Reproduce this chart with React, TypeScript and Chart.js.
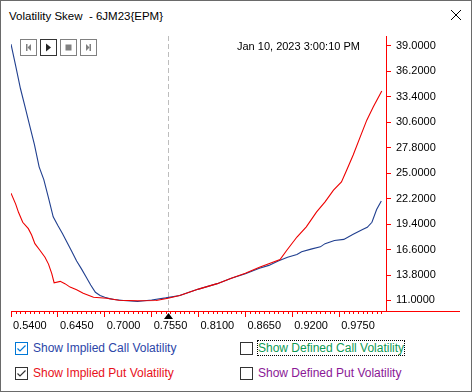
import React, { useEffect, useRef } from 'react';
import { Chart, registerables } from 'chart.js';

Chart.register(...registerables);

// ---- data ----
const strikeLabels = ['0.5400', '0.6450', '0.7000', '0.7550', '0.8100', '0.8650', '0.9200', '0.9750'];
const yTickValues = [11, 13.8, 16.6, 19.4, 22.2, 25, 27.8, 30.6, 33.4, 36.2, 39];

const callStrikeIdx = [0, 1, 2, 3, 4, 5, 6, 7, 8, 9, 10, 11, 12, 13, 14, 15, 16, 17, 18, 19, 20, 21, 22, 24, 27, 30, 33, 36, 38, 40, 42, 44, 47, 50, 53, 55, 57, 59, 61, 62, 64, 66, 67, 69, 71, 73, 75, 76, 77, 78, 79];
const callVol = [39.2, 36.8, 34.35, 32.3, 30.2, 28.15, 25.7, 24.3, 22.3, 20.2, 19.25, 18.35, 17.35, 16.35, 15.35, 14.5, 13.6, 12.7, 11.9, 11.55, 11.35, 11.2, 11.1, 11.0, 10.89, 11.05, 11.28, 11.55, 11.9, 12.25, 12.55, 12.85, 13.45, 13.95, 14.55, 14.86, 15.35, 15.75, 16.05, 16.35, 16.65, 16.9, 17.25, 17.6, 17.72, 18.28, 18.8, 19.05, 19.6, 21.0, 21.95];

const putStrikeIdx = [0, 1, 1.6, 2.5, 3.7, 4.4, 5.1, 6.2, 7.25, 8, 8.7, 9.2, 10.5, 11.5, 12.6, 14, 15.4, 17.6, 20.4, 23, 27, 31, 33.5, 36, 38, 40, 42, 44, 47, 50, 53, 55, 57.4, 58.8, 61, 63, 65.2, 67, 68.8, 70.5, 71.6, 73, 74.5, 75.9, 77.3, 79.1];
const putVol = [22.8, 21.6, 20.7, 19.6, 18.9, 18.2, 17.25, 16.5, 15.75, 15.0, 13.95, 12.95, 13.1, 12.85, 12.47, 12.18, 11.8, 11.36, 11.25, 11.02, 10.96, 11.0, 11.25, 11.55, 11.9, 12.25, 12.55, 12.85, 13.45, 14.0, 14.65, 15.05, 15.5, 16.5, 17.98, 19.1, 20.74, 21.84, 23.13, 24.04, 25.33, 27.0, 29.0, 30.84, 32.31, 34.04];

const currentStrikeIdx = 33.56;
const strikeIdxMax = 80;
const timestamp = 'Jan 10, 2023 3:00:10 PM';
const windowTitle = 'Volatility Skew  - 6JM23{EPM}';

const FONT = "'Liberation Sans', Arial, sans-serif";
const AXIS_RED = '#ff0000';

const decor = {
  id: 'decor',
  beforeDatasetsDraw(chart: any) {
    const { ctx, chartArea, scales } = chart;
    const x = scales.x;
    const px = Math.round(x.getPixelForValue(currentStrikeIdx)) + 0.5;
    ctx.save();
    ctx.strokeStyle = '#bdbdbd';
    ctx.lineWidth = 1;
    ctx.setLineDash([5, 3]);
    ctx.beginPath();
    ctx.moveTo(px, chartArea.top);
    ctx.lineTo(px, chartArea.bottom);
    ctx.stroke();
    ctx.restore();
  },
  afterDraw(chart: any) {
    const { ctx, chartArea, scales } = chart;
    const x = scales.x;
    const yb = Math.round(chartArea.bottom) + 0.5;
    ctx.save();
    ctx.strokeStyle = AXIS_RED;
    ctx.lineWidth = 1;
    ctx.beginPath();
    for (let i = 1; i < strikeIdxMax; i++) {
      if (i % 10 === 0) continue;
      const p = Math.round(x.getPixelForValue(i)) + 0.5;
      ctx.moveTo(p, yb);
      ctx.lineTo(p, yb + 2.5);
    }
    ctx.moveTo(chartArea.right, yb);
    ctx.lineTo(chartArea.right + 74, yb);
    ctx.stroke();
    const tx = Math.round(x.getPixelForValue(currentStrikeIdx)) + 0.5;
    ctx.fillStyle = '#000';
    ctx.beginPath();
    ctx.moveTo(tx, yb + 1.5);
    ctx.lineTo(tx - 4.5, yb + 7.5);
    ctx.lineTo(tx + 4.5, yb + 7.5);
    ctx.closePath();
    ctx.fill();
    ctx.restore();
  },
};

function MediaButton({ left, dark, children }: { left: number; dark?: boolean; children: React.ReactNode }) {
  return (
    <div
      style={{
        position: 'absolute',
        left,
        top: 39,
        width: 17,
        height: 17,
        boxSizing: 'border-box',
        border: `1px solid ${dark ? '#333' : '#808080'}`,
        background: '#fff',
      }}
    >
      <svg width={15} height={15} style={{ position: 'absolute', left: 0, top: 0 }}>
        {children}
      </svg>
    </div>
  );
}

function CheckBox({ left, top, checked, boxColor, label, color, focus }: any) {
  return (
    <>
      <div
        style={{
          position: 'absolute',
          left,
          top,
          width: 13,
          height: 13,
          boxSizing: 'border-box',
          border: `1px solid ${boxColor}`,
          background: '#fff',
        }}
      >
        {checked && (
          <svg width={11} height={11} style={{ position: 'absolute', left: 0, top: 0 }}>
            <polyline points="1.5,5.5 4,8 9.5,2.5" fill="none" stroke={boxColor} strokeWidth={1.2} />
          </svg>
        )}
      </div>
      <div
        style={{
          position: 'absolute',
          left: left + 17,
          top: top - 2,
          height: 16,
          lineHeight: '16px',
          fontFamily: FONT,
          fontSize: 12,
          color,
          whiteSpace: 'nowrap',
          padding: '0 1px',
          outline: focus ? '1px dotted #000' : 'none',
          outlineOffset: -1,
        }}
      >
        {label}
      </div>
    </>
  );
}

export default function App() {
  const canvasRef = useRef<HTMLCanvasElement>(null);

  useEffect(() => {
    document.body.style.margin = '0';
    const canvas = canvasRef.current!;
    const chart = new Chart(canvas, {
      type: 'line',
      data: {
        datasets: [
          {
            label: 'Implied Put Volatility',
            data: putStrikeIdx.map((x, i) => ({ x, y: putVol[i] })),
            borderColor: '#ee0000',
            borderWidth: 1.1,
            pointRadius: 0,
            tension: 0,
            fill: false,
          },
          {
            label: 'Implied Call Volatility',
            data: callStrikeIdx.map((x, i) => ({ x, y: callVol[i] })),
            borderColor: '#203f8f',
            borderWidth: 1.1,
            pointRadius: 0,
            tension: 0,
            fill: false,
          },
        ],
      },
      options: {
        animation: false,
        responsive: false,
        devicePixelRatio: 1,
        layout: { padding: { left: 11, top: 36, right: 0, bottom: 0 }, autoPadding: false },
        plugins: { legend: { display: false }, tooltip: { enabled: false } },
        scales: {
          x: {
            type: 'linear',
            position: 'bottom',
            min: 0,
            max: strikeIdxMax,
            afterBuildTicks: (s: any) => {
              s.ticks = strikeLabels.map((_, i) => ({ value: i * 10 }));
            },
            afterFit: (s: any) => {
              s.height = 29;
            },
            grid: { drawOnChartArea: false, color: AXIS_RED, tickLength: 6 },
            border: { color: AXIS_RED, width: 1 },
            ticks: {
              align: 'start',
              labelOffset: 2,
              padding: 2,
              color: '#000',
              maxRotation: 0,
              autoSkip: false,
              font: { family: FONT, size: 11 },
              callback: (v: any) => strikeLabels[Math.round(Number(v) / 10)] ?? '',
            },
          },
          y: {
            type: 'linear',
            position: 'right',
            min: 9.84,
            max: 40.1,
            afterBuildTicks: (s: any) => {
              s.ticks = yTickValues.map((v) => ({ value: v }));
            },
            afterFit: (s: any) => {
              s.width = 86;
            },
            grid: { drawOnChartArea: false, color: AXIS_RED, tickLength: 5 },
            border: { color: AXIS_RED, width: 1 },
            ticks: {
              padding: 5,
              color: '#000',
              font: { family: FONT, size: 11 },
              callback: (v: any) => Number(v).toFixed(4),
            },
          },
        },
      } as any,
      plugins: [decor],
    });
    return () => chart.destroy();
  }, []);

  return (
    <div style={{ position: 'relative', width: 472, height: 392, background: '#fff', overflow: 'hidden' }}>
      <div
        style={{
          position: 'absolute',
          left: 9,
          top: 8,
          fontFamily: FONT,
          fontSize: 11.5,
          lineHeight: '16px',
          whiteSpace: 'pre',
          color: '#000',
        }}
      >
        {windowTitle}
      </div>
      <svg width={12} height={12} style={{ position: 'absolute', left: 450, top: 9 }}>
        <line x1={1} y1={1} x2={11} y2={11} stroke="#000" strokeWidth={1} />
        <line x1={11} y1={1} x2={1} y2={11} stroke="#000" strokeWidth={1} />
      </svg>

      <canvas
        ref={canvasRef}
        width={472}
        height={340}
        style={{ position: 'absolute', left: 0, top: 0, width: 472, height: 340 }}
      />

      <MediaButton left={20}>
        <rect x={5} y={4} width={1.5} height={7} fill="#808080" />
        <polygon points="10,4 6.5,7.5 10,11" fill="#808080" />
      </MediaButton>
      <MediaButton left={40} dark>
        <polygon points="5,3.5 10,7.5 5,11.5" fill="#222" />
      </MediaButton>
      <MediaButton left={60}>
        <rect x={4.5} y={4.5} width={6} height={6} fill="#808080" />
      </MediaButton>
      <MediaButton left={80}>
        <polygon points="5,4 8.5,7.5 5,11" fill="#808080" />
        <rect x={8.5} y={4} width={1.5} height={7} fill="#808080" />
      </MediaButton>

      <div
        style={{
          position: 'absolute',
          left: 237,
          top: 39,
          fontFamily: FONT,
          fontSize: 11,
          lineHeight: '14px',
          color: '#000',
          whiteSpace: 'nowrap',
        }}
      >
        {timestamp}
      </div>

      <CheckBox left={15} top={342} checked boxColor="#0078d7" label="Show Implied Call Volatility" color="#2b45a8" />
      <CheckBox left={15} top={367} checked boxColor="#333" label="Show Implied Put Volatility" color="#e8101a" />
      <CheckBox left={240} top={342} boxColor="#333" label="Show Defined Call Volatility" color="#0f9a55" focus />
      <CheckBox left={240} top={367} boxColor="#333" label="Show Defined Put Volatility" color="#8a1896" />

      <div
        style={{
          position: 'absolute',
          left: 0,
          top: 0,
          width: 472,
          height: 392,
          boxSizing: 'border-box',
          border: '1px solid #6a6a6a',
          pointerEvents: 'none',
        }}
      />
    </div>
  );
}
